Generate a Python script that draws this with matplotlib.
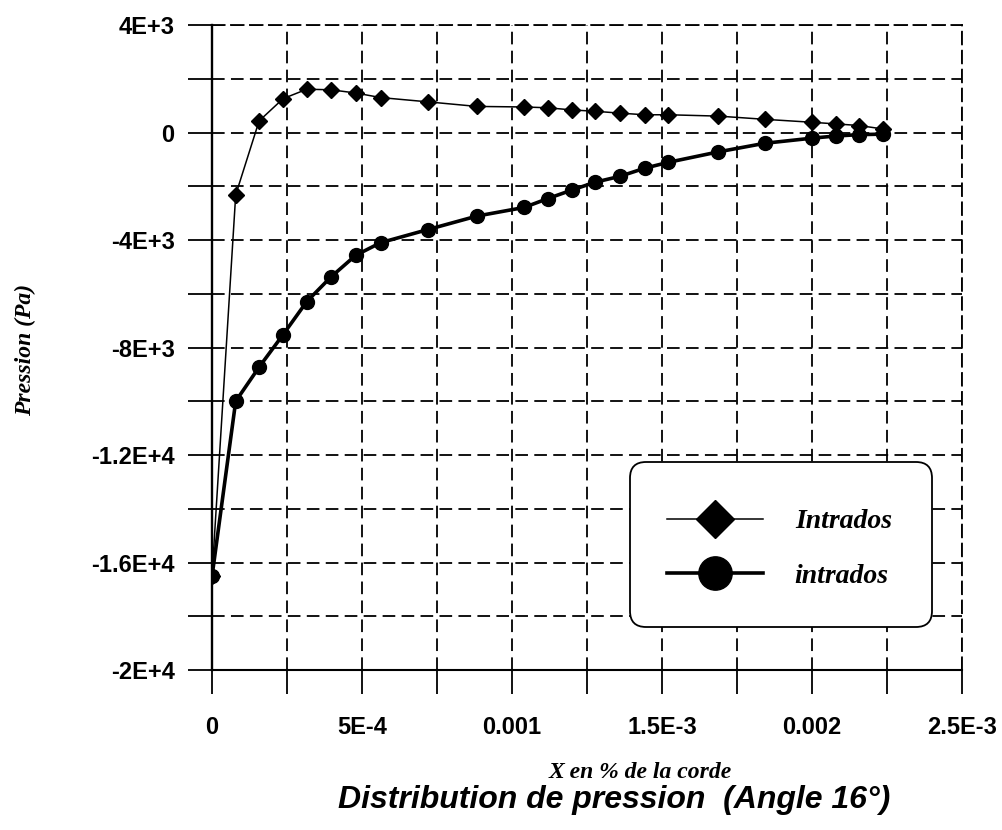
import numpy as np
import matplotlib
matplotlib.use("Agg")
import matplotlib.pyplot as plt
from matplotlib.ticker import MultipleLocator, FixedLocator, FixedFormatter
from matplotlib.font_manager import FontProperties
from matplotlib.patches import FancyBboxPatch

# Position along the chord (shared by both curves)
x_pos = [0, 0.79e-4, 1.57e-4, 2.37e-4, 3.16e-4, 3.96e-4, 4.79e-4, 5.62e-4,
         7.20e-4, 8.83e-4, 1.040e-3, 1.119e-3, 1.200e-3, 1.277e-3, 1.360e-3,
         1.442e-3, 1.521e-3, 1.688e-3, 1.843e-3, 2.001e-3, 2.079e-3,
         2.157e-3, 2.237e-3]

# Pressure (Pa), diamond curve
p_upper = [-16500, -2320, 430, 1260, 1610, 1590, 1470, 1300, 1140, 970,
           950, 920, 840, 790, 720, 660, 660, 610, 490, 380, 320, 260, 130]

# Pressure (Pa), circle curve
p_lower = [-16520, -10000, -8730, -7520, -6290, -5380, -4570, -4100,
           -3610, -3110, -2790, -2460, -2140, -1850, -1630, -1330, -1110,
           -720, -400, -210, -130, -80, -60]

labels = ["Intrados", "intrados"]

x_ticks = [0, 5e-4, 1e-3, 1.5e-3, 2e-3, 2.5e-3]
x_ticklabels = ["0", "5E-4", "0.001", "1.5E-3", "0.002", "2.5E-3"]
y_ticks = [4000, 0, -4000, -8000, -12000, -16000, -20000]
y_ticklabels = ["4E+3", "0", "-4E+3", "-8E+3", "-1.2E+4", "-1.6E+4", "-2E+4"]

W, H = 1002, 830
fig = plt.figure(figsize=(W / 100, H / 100), dpi=100)
ax = fig.add_axes([212 / W, 160 / H, 750 / W, 645 / H])

ax.set_xlim(0, 2.5e-3)
ax.set_ylim(-2e4, 4e3)

dash = (0, (7, 3.5))
ax.xaxis.set_major_locator(FixedLocator(x_ticks))
ax.xaxis.set_major_formatter(FixedFormatter(x_ticklabels))
ax.xaxis.set_minor_locator(MultipleLocator(2.5e-4))
ax.yaxis.set_major_locator(FixedLocator(y_ticks))
ax.yaxis.set_major_formatter(FixedFormatter(y_ticklabels))
ax.yaxis.set_minor_locator(MultipleLocator(2000))

ax.grid(True, which="both", color="black", linestyle=dash, linewidth=1.3)
ax.set_axisbelow(True)

for side in ("top", "right"):
    ax.spines[side].set_linestyle(dash)
    ax.spines[side].set_linewidth(1.3)
ax.spines["left"].set_linewidth(1.7)
ax.spines["bottom"].set_linewidth(1.5)

tick_font = FontProperties(family="Liberation Sans", weight="bold", size=17)
ax.tick_params(which="both", direction="out", length=17, width=1.3,
               top=False, right=False, colors="black")
ax.tick_params(axis="x", which="both", pad=16)
ax.tick_params(axis="y", which="both", pad=10)
for lab in ax.get_xticklabels() + ax.get_yticklabels():
    lab.set_fontproperties(tick_font)

ax.plot(x_pos, p_upper, color="black", linewidth=1.1, marker="D",
        markersize=8, label=labels[0], zorder=3)
ax.plot(x_pos, p_lower, color="black", linewidth=2.6, marker="o",
        markersize=10, label=labels[1], zorder=4)

# Rounded legend box, drawn in display pixels
box = FancyBboxPatch((630, H - 627), 302, 165,
                     boxstyle="round,pad=0,rounding_size=16",
                     transform=None, facecolor="white", edgecolor="black",
                     linewidth=1.3, zorder=5, clip_on=False)
ax.add_artist(box)

leg_font = FontProperties(family="Liberation Serif", weight="bold",
                          style="italic", size=20)
leg = ax.legend(loc="upper left", bbox_to_anchor=(667 / W, 1 - 509 / H),
                bbox_transform=fig.transFigure, prop=leg_font,
                markerscale=2.4, handlelength=3.45, handletextpad=1.15,
                labelspacing=1.05, borderpad=0, borderaxespad=0,
                frameon=False)
leg.set_zorder(6)

fig.text(25 / W, 1 - 350 / H, "Pression (Pa)", rotation=90, ha="center",
         va="center", family="Liberation Serif", weight="bold",
         style="italic", size=17)
fig.text(640 / W, 1 - 772 / H, "X en % de la corde", ha="center",
         va="center", family="Liberation Serif", weight="bold",
         style="italic", size=17)
fig.text(614 / W, 1 - 800 / H, "Distribution de pression  (Angle 16°)",
         ha="center", va="center", family="Liberation Sans", weight="bold",
         style="italic", size=23)

fig.savefig("out.png", dpi=100, facecolor="white")
